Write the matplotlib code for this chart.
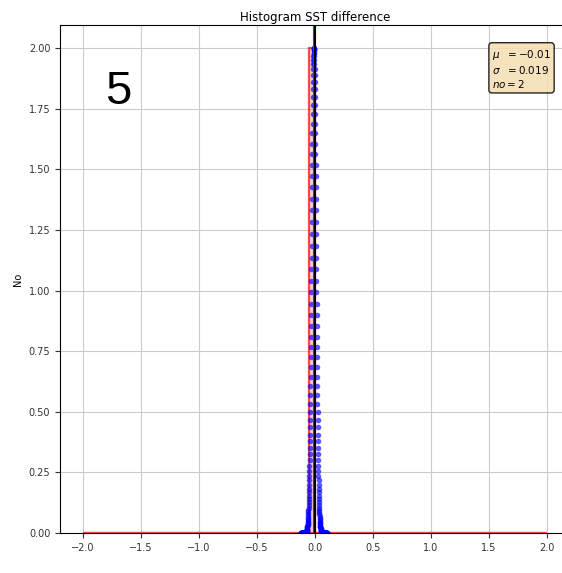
import numpy as np
import matplotlib
matplotlib.use("Agg")
import matplotlib.pyplot as plt

# ---- data
BIN_EDGES = np.arange(-2.0, 2.0001, 0.05)
SST_DIFF = [-0.03, -0.02]          # two samples, both in the [-0.05, 0] bin
MU = -0.01
SIGMA = 0.019
NO = 2
PANEL = "5"


def main() -> None:
    fig = plt.figure(figsize=(5.62, 5.73), dpi=100)
    # axes run past the right edge, as in the cropped reference
    ax = fig.add_axes([0.1068, 0.0698, 0.9075, 0.8866])

    # histogram
    ax.hist(SST_DIFF, bins=BIN_EDGES, histtype="stepfilled",
            facecolor=(1, 0, 0, 0.2), edgecolor=(1, 0, 0, 0.7), linewidth=1.6)

    # fitted gaussian, scaled to the peak count
    gx = np.linspace(MU - 6 * SIGMA, MU + 6 * SIGMA, 300)
    gy = NO * np.exp(-0.5 * ((gx - MU) / SIGMA) ** 2)
    ax.plot(gx, gy, "o", color="blue", ms=4, alpha=0.65, mec="none")

    ax.axvline(MU, color="green", lw=1.5)
    ax.axvline(0.0, color="black", lw=1.5)

    ax.set_xlim(-2.2, 2.2)
    ax.set_ylim(0, 2.095)
    ax.set_xticks(np.arange(-2.0, 2.01, 0.5))
    ax.set_yticks(np.arange(0, 2.01, 0.25))
    ax.tick_params(labelsize=7, colors="#333333")
    ax.grid(True, color="#cccccc", lw=0.8)
    ax.set_axisbelow(True)

    ax.set_title("Histogram SST difference", fontsize=8.5, pad=3)
    ax.set_ylabel("No", fontsize=7)

    textstr = "\n".join([
        r"$\mu\ \ = %.2f$" % MU,
        r"$\sigma\ \ = %.3f$" % SIGMA,
        r"$no = %d$" % NO,
    ])
    ax.text(0.847, 0.955, textstr, transform=ax.transAxes, fontsize=7.5,
            va="top", ha="left",
            bbox=dict(boxstyle="round", facecolor="wheat", alpha=0.85))

    fig.text(0.21, 0.84, PANEL, fontsize=34, family="Liberation Sans",
             ha="center", va="center")

    fig.savefig("out.png", dpi=100)


if __name__ == "__main__":
    main()
